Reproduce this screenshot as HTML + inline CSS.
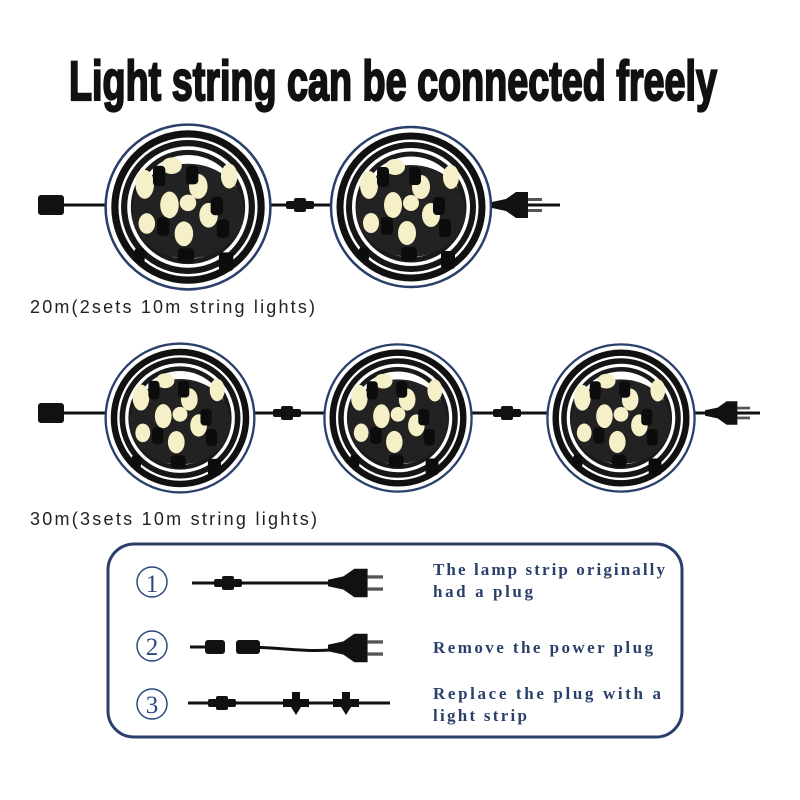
<!DOCTYPE html>
<html><head><meta charset="utf-8"><style>
html,body{margin:0;padding:0;background:#fff;}
svg{display:block;}
</style></head><body>
<svg width="800" height="800" viewBox="0 0 800 800" xmlns="http://www.w3.org/2000/svg">
<defs>
<g id="coil">
  <circle r="80" fill="#fff" stroke="#2a3f6a" stroke-width="2.5"/>
  <circle r="71" fill="none" stroke="#111" stroke-width="7"/>
  <circle r="62" fill="none" stroke="#161616" stroke-width="6"/>
  <circle r="53" fill="none" stroke="#1a1a1a" stroke-width="5"/>
  <ellipse cx="0" cy="4" rx="54" ry="46" fill="#222"/>
  <g fill="#f6f0c8">
    <ellipse cx="-42" cy="-22" rx="9" ry="14"/>
    <ellipse cx="-16" cy="-40" rx="10" ry="8"/>
    <ellipse cx="10" cy="-20" rx="9" ry="12"/>
    <ellipse cx="-18" cy="-2" rx="9" ry="13"/>
    <ellipse cx="20" cy="8" rx="9" ry="12"/>
    <ellipse cx="-4" cy="26" rx="9" ry="12"/>
    <ellipse cx="40" cy="-30" rx="8" ry="12"/>
    <ellipse cx="0" cy="-4" rx="8" ry="8"/>
    <ellipse cx="-40" cy="16" rx="8" ry="10"/>
  </g>
  <g fill="#0c0c0c">
    <rect x="-34" y="-40" width="12" height="20" rx="4"/>
    <rect x="-2" y="-40" width="12" height="18" rx="4"/>
    <rect x="22" y="-10" width="12" height="18" rx="4"/>
    <rect x="-30" y="10" width="12" height="18" rx="4"/>
    <rect x="28" y="12" width="12" height="18" rx="4"/>
    <rect x="-10" y="40" width="16" height="14" rx="4"/>
    <rect x="30" y="44" width="14" height="18" rx="3"/>
    <rect x="-52" y="40" width="10" height="14" rx="3"/>
  </g>
</g>
<g id="plug">
  <path d="M0 -3 L14 -6 L24 -13 L36 -13 L36 13 L24 13 L14 6 L0 3 Z" fill="#111"/>
  <rect x="36" y="-7" width="14" height="3" fill="#555"/>
  <rect x="36" y="4" width="14" height="3" fill="#555"/>
</g>
<g id="conn">
  <rect x="-14" y="-4" width="28" height="8" rx="2" fill="#111"/>
  <rect x="-6" y="-7" width="12" height="14" rx="2" fill="#111"/>
</g>
</defs>

<text x="393" y="100" text-anchor="middle" font-family="'Liberation Sans Narrow','Liberation Sans',sans-serif" font-weight="bold" font-size="56" textLength="648" lengthAdjust="spacingAndGlyphs" fill="#111" stroke="#111" stroke-width="2.2">Light string can be connected freely</text>

<!-- row 1 -->
<line x1="40" y1="205" x2="560" y2="205" stroke="#111" stroke-width="3"/>
<rect x="38" y="195" width="26" height="20" rx="3" fill="#111"/>
<use href="#coil" transform="translate(188,207) scale(1.03)"/>
<use href="#coil" transform="translate(411,207) scale(1.0)"/>
<use href="#conn" transform="translate(300,205)"/>
<use href="#plug" transform="translate(492,205)"/>
<text x="30" y="313" font-family="'Liberation Sans',sans-serif" font-size="18" textLength="285" lengthAdjust="spacing" fill="#222">20m(2sets 10m string lights)</text>

<!-- row 2 -->
<line x1="40" y1="413" x2="760" y2="413" stroke="#111" stroke-width="3"/>
<rect x="38" y="403" width="26" height="20" rx="3" fill="#111"/>
<use href="#coil" transform="translate(180,418) scale(0.93)"/>
<use href="#coil" transform="translate(398,418) scale(0.92)"/>
<use href="#coil" transform="translate(621,418) scale(0.92)"/>
<use href="#conn" transform="translate(287,413)"/>
<use href="#conn" transform="translate(507,413)"/>
<use href="#plug" transform="translate(705,413) scale(0.9)"/>
<text x="30" y="525" font-family="'Liberation Sans',sans-serif" font-size="18" textLength="287" lengthAdjust="spacing" fill="#222">30m(3sets 10m string lights)</text>

<!-- box -->
<rect x="108" y="544" width="574" height="193" rx="26" fill="#fff" stroke="#2a3f6a" stroke-width="3"/>
<g font-family="'Liberation Serif',serif" font-size="28" fill="#2a4a80" text-anchor="middle">
  <circle cx="152" cy="582" r="15" fill="none" stroke="#2a4a80" stroke-width="1.5"/>
  <text x="152" y="592" font-size="25">1</text>
  <circle cx="152" cy="646" r="15" fill="none" stroke="#2a4a80" stroke-width="1.5"/>
  <text x="152" y="655" font-size="25">2</text>
  <circle cx="152" cy="704" r="15" fill="none" stroke="#2a4a80" stroke-width="1.5"/>
  <text x="152" y="713" font-size="25">3</text>
</g>
<!-- cable 1 -->
<line x1="192" y1="583" x2="330" y2="583" stroke="#111" stroke-width="3"/>
<use href="#conn" transform="translate(228,583)"/>
<use href="#plug" transform="translate(328,583) scale(1.1)"/>
<!-- cable 2 -->
<line x1="190" y1="647" x2="220" y2="647" stroke="#111" stroke-width="3"/>
<rect x="205" y="640" width="20" height="14" rx="3" fill="#111"/>
<path d="M240 647 C280 647 300 652 330 650" fill="none" stroke="#111" stroke-width="3"/>
<rect x="236" y="640" width="24" height="14" rx="3" fill="#111"/>
<use href="#plug" transform="translate(328,648) scale(1.1)"/>
<!-- cable 3 -->
<line x1="188" y1="703" x2="390" y2="703" stroke="#111" stroke-width="3"/>
<use href="#conn" transform="translate(222,703)"/>
<path d="M283 699 h26 v8 h-8 l-5 8 l-5 -8 h-8 z M292 699 v-7 h8 v7z" fill="#111"/>
<path d="M333 699 h26 v8 h-8 l-5 8 l-5 -8 h-8 z M342 699 v-7 h8 v7z" fill="#111"/>

<g font-family="'Liberation Serif',serif" font-weight="bold" font-size="17" fill="#2a3f6a">
  <text x="433" y="575" textLength="232" lengthAdjust="spacing">The lamp strip originally</text>
  <text x="433" y="597" textLength="100" lengthAdjust="spacing">had a plug</text>
  <text x="433" y="653" textLength="220" lengthAdjust="spacing">Remove the power plug</text>
  <text x="433" y="699" textLength="228" lengthAdjust="spacing">Replace the plug with a</text>
  <text x="433" y="721" textLength="94" lengthAdjust="spacing">light strip</text>
</g>
</svg>
</body></html>
